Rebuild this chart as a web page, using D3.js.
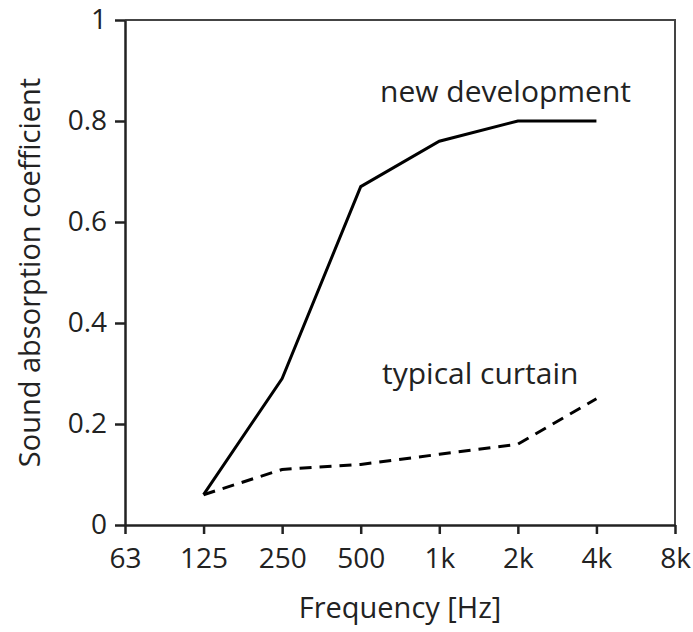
<!DOCTYPE html>
<html>
<head>
<meta charset="utf-8">
<script src="https://cdn.jsdelivr.net/npm/d3@7"></script>
<style>
body { margin: 0; background: #fff; }
text { font-family: "Open Sans", "Noto Sans", sans-serif; fill: #222; }
</style>
</head>
<body>
<div id="chart"></div>
<script>
var freqs = ["63", "125", "250", "500", "1k", "2k", "4k", "8k"];
var dataFreqs = ["125", "250", "500", "1k", "2k", "4k"];
var newDevelopment = [0.06, 0.29, 0.67, 0.76, 0.80, 0.80];
var typicalCurtain = [0.06, 0.11, 0.12, 0.14, 0.16, 0.25];
var yTicks = [0, 0.2, 0.4, 0.6, 0.8, 1];

var width = 693, height = 632;
var margin = {top: 20, right: 18, bottom: 107, left: 125};

var svg = d3.select("#chart").append("svg")
  .attr("width", width)
  .attr("height", height);

var x = d3.scalePoint().domain(freqs).range([margin.left, width - margin.right]);
var y = d3.scaleLinear().domain([0, 1]).range([height - margin.bottom, margin.top]);

// frame top + right
svg.append("path")
  .attr("d", "M" + margin.left + "," + y(1) + "H" + x("8k") + "V" + y(0))
  .attr("fill", "none")
  .attr("stroke", "#444")
  .attr("stroke-width", 2);

var yAxis = svg.append("g")
  .attr("transform", "translate(" + margin.left + ",0)")
  .call(d3.axisLeft(y).tickValues(yTicks).tickFormat(function(d) { return d === 0 || d === 1 ? d : d3.format(".1f")(d); }).tickSize(10).tickSizeOuter(0).tickPadding(8));

var xAxis = svg.append("g")
  .attr("transform", "translate(0," + y(0) + ")")
  .call(d3.axisBottom(x).tickSize(9).tickSizeOuter(0).tickPadding(14));

[yAxis, xAxis].forEach(function(a) {
  a.select(".domain").attr("stroke", "#222").attr("stroke-width", 2.5);
  a.selectAll(".tick line").attr("stroke", "#222").attr("stroke-width", 2.5);
  a.selectAll(".tick text").style("font-size", "28px").attr("fill", "#222");
});

var line = d3.line()
  .x(function(d, i) { return x(dataFreqs[i]); })
  .y(function(d) { return y(d); });

svg.append("path")
  .datum(newDevelopment)
  .attr("d", line)
  .attr("fill", "none")
  .attr("stroke", "#000")
  .attr("stroke-width", 3);

svg.append("path")
  .datum(typicalCurtain)
  .attr("d", line)
  .attr("fill", "none")
  .attr("stroke", "#000")
  .attr("stroke-width", 3)
  .attr("stroke-dasharray", "12,8");

svg.append("text")
  .attr("x", 380).attr("y", 102)
  .style("font-size", "30px")
  .text("new development");

svg.append("text")
  .attr("x", 382).attr("y", 384)
  .style("font-size", "30px")
  .text("typical curtain");

svg.append("text")
  .attr("x", (margin.left + x("8k")) / 2)
  .attr("y", 618)
  .attr("text-anchor", "middle")
  .style("font-size", "29px")
  .text("Frequency [Hz]");

svg.append("text")
  .attr("transform", "translate(40," + ((y(0) + y(1)) / 2) + ") rotate(-90)")
  .attr("text-anchor", "middle")
  .style("font-size", "29px")
  .text("Sound absorption coefficient");
</script>
</body>
</html>
